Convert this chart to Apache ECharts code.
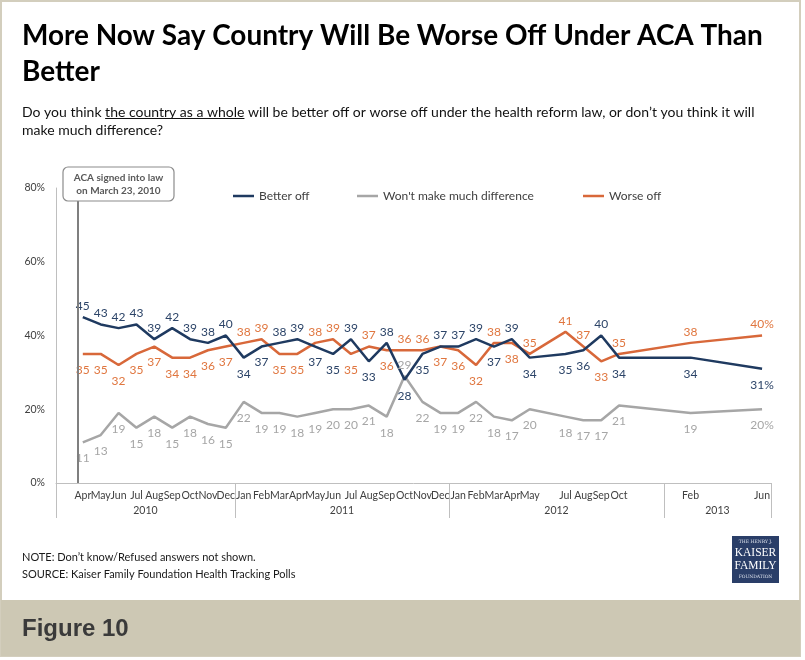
<!DOCTYPE html>
<html><head><meta charset="utf-8">
<script src="https://cdn.jsdelivr.net/npm/echarts@6/dist/echarts.min.js"></script>
<style>html,body{margin:0;padding:0;background:#fff}#c{width:805px;height:660px}</style>
</head><body><div id="c"></div>
<script>
// ---- data (one category per month, Mar 2010 .. Jun 2013) ----
const monthLabels = ['', 'Apr','May','Jun','Jul','Aug','Sep','Oct','Nov','Dec',
  'Jan','Feb','Mar','Apr','May','Jun','Jul','Aug','Sep','Oct','Nov','Dec',
  'Jan','Feb','Mar','Apr','May','','Jul','Aug','Sep','Oct','','',
  '','Feb','','','','Jun'];
const years = ['2010','2011','2012','2013'];
const betterOff = [null, 45,43,42,43,39,42,39,38,40,
  34,37,38,39,37,35,39,33,38,28,35,37,
  37,39,37,39,34,null,35,36,40,34,null,null,
  null,34,null,null,null,31];
const wontMatter = [null, 11,13,19,15,18,15,18,16,15,
  22,19,19,18,19,20,20,21,18,29,22,19,
  19,22,18,17,20,null,18,17,17,21,null,null,
  null,19,null,null,null,20];
const worseOff = [null, 35,35,32,35,37,34,34,36,37,
  38,39,35,35,38,39,35,37,36,36,36,37,
  36,32,38,38,35,null,41,37,33,35,null,null,
  null,38,null,null,null,40];
const seriesNames = ['Better off', "Won't make much difference", 'Worse off'];
const firstMonthOfYear = 2; // category 0 is March (0-based month 2)
const acaDay = 23;          // ACA signed March 23, 2010 (in category 0)

const titleText = 'More Now Say Country Will Be Worse Off Under ACA Than';
const titleText2 = 'Better';
const subA = 'Do you think ', subU = 'the country as a whole',
      subB = ' will be better off or worse off under the health reform law, or don\u2019t you think it will';
const sub2 = 'make much difference?';

// ---- derived ----
const FF = 'Lato, "Open Sans", sans-serif';
function tw(str, font){ const c=document.createElement('canvas').getContext('2d'); c.font=font; return c.measureText(str).width; }
const titleSize = Math.min(30, 27 * 741 / tw(titleText, 'bold 27px Lato'));
const subSize = Math.min(14, 13 * 736 / tw(subA+subU+subB, '13px Lato'));
const uX1 = 22 + tw(subA, subSize+'px Lato');
const uX2 = uX1 + tw(subU, subSize+'px Lato');

const N = monthLabels.length;
const yearTicks = [0];
for (let i=1;i<N;i++) if ((i+firstMonthOfYear)%12===0) yearTicks.push(i);
yearTicks.push(N);
const yearCenters = years.map((y,k)=> (yearTicks[k]+yearTicks[k+1])/2);
const acaPos = 0.5 + (acaDay-1)/31;

function lastIdx(a){ for(let i=a.length-1;i>=0;i--) if(a[i]!=null) return i; return -1; }
function build(vals, posFn){
  return vals.map((v,i)=> v==null ? null : (function(){
    const p = posFn(i);
    return {value:v, label:{position:p, distance: p==='top'?5:10}};
  })());
}
const betterData = build(betterOff, i => betterOff[i] >= worseOff[i] ? 'top' : 'bottom');
const worseData = build(worseOff, i => worseOff[i] > betterOff[i] ? 'top' : 'bottom');
const wontData = build(wontMatter, i => wontMatter[i] > Math.min(betterOff[i], worseOff[i]) ? 'top' : 'bottom');

const colors = ['#1f3a60', '#a6a6a6', '#d8683a'];
const labelColors = ['#2c4468', '#a6a6a6', '#e0763f'];
function mkSeries(k, data, src){
  const li = lastIdx(src);
  return {
    name: seriesNames[k], type:'line', data, connectNulls:true,
    symbol:'circle', symbolSize:0, showSymbol:true,
    lineStyle:{color:colors[k], width:2.5}, itemStyle:{color:colors[k]},
    label:{show:true, color:labelColors[k], fontFamily:FF, fontSize:12,
      formatter: p => p.dataIndex===li ? p.value+'%' : String(p.value)},
    emphasis:{disabled:true}, z: 3
  };
}
const legendLefts = [228, 352, 578];
const legends = seriesNames.map((n,k)=>({data:[n], left:legendLefts[k], top:185, itemWidth:21, itemHeight:2.5,
  icon:'rect', selectedMode:false, textStyle:{fontFamily:FF, fontSize:12, color:'#404040'}}));

const chart = echarts.init(document.getElementById('c'), null, {renderer:'canvas'});
chart.setOption({
  animation:false,
  backgroundColor:'#ffffff',
  title:{text: titleText+'\n'+titleText2, left:17, top:13,
    textStyle:{fontFamily:FF, fontWeight:'bold', fontSize:titleSize, color:'#000', lineHeight:36}},
  legend:legends,
  grid:{left:56, right:34, top:188, bottom:177},
  xAxis:[
    {type:'category', data:monthLabels, boundaryGap:true,
      axisLine:{show:true, lineStyle:{color:'#bfbfbf', width:1}},
      axisTick:{show:false},
      axisLabel:{interval:0, hideOverlap:false, margin:7, fontFamily:FF, fontSize:10.5, color:'#404040'}},
    {type:'value', min:0, max:N, position:'bottom',
      axisLine:{show:false}, splitLine:{show:false},
      axisTick:{show:true, customValues:yearTicks, length:35, lineStyle:{color:'#bfbfbf', width:1}},
      axisLabel:{customValues:yearCenters, margin:22, fontFamily:FF, fontSize:10.5, color:'#404040',
        formatter: v => { const k = yearCenters.indexOf(v); return k>=0 ? years[k] : ''; }}}
  ],
  yAxis:{type:'value', min:0, max:80, interval:20,
    axisLine:{show:true, lineStyle:{color:'#bfbfbf', width:1}}, axisTick:{show:false}, splitLine:{show:false},
    axisLabel:{formatter:'{value}%', margin:11, fontFamily:FF, fontSize:10.5, color:'#404040'}},
  series:[
    mkSeries(1, wontData, wontMatter),
    mkSeries(2, worseData, worseOff),
    mkSeries(0, betterData, betterOff),
    {type:'line', name:'aca', xAxisIndex:1, data:[], silent:true,
      markLine:{symbol:'none', silent:true, label:{show:false},
        lineStyle:{color:'#7f7f7f', width:2, type:'solid'}, data:[{xAxis:acaPos}]}}
  ],
  graphic:[
    {type:'rect', z:-10, silent:true, shape:{x:1, y:1, width:799, height:655},
      style:{fill:'#ffffff', stroke:'#d3cebd', lineWidth:2}},
    {type:'rect', z:-9, silent:true, shape:{x:1, y:600, width:799, height:56},
      style:{fill:'#cdc8b4'}},
    {type:'text', z:10, x:22, y:629, style:{text:'Figure 10', font:'bold 24px "Liberation Sans", Arial, sans-serif', fill:'#3a3a3a', textVerticalAlign:'middle'}},
    {type:'text', z:10, x:22, y:112, style:{text:subA+subU+subB, font:subSize+'px '+FF, fill:'#111', textVerticalAlign:'middle'}},
    {type:'text', z:10, x:22, y:130, style:{text:sub2, font:subSize+'px '+FF, fill:'#111', textVerticalAlign:'middle'}},
    {type:'line', z:10, shape:{x1:uX1, y1:118.5, x2:uX2, y2:118.5}, style:{stroke:'#111', lineWidth:1}},
    {type:'rect', z:100, shape:{x:63, y:167, width:111, height:34, r:5}, style:{fill:'#fff', stroke:'#8c8c8c', lineWidth:1.2}},
    {type:'text', z:101, x:118.5, y:184, style:{text:'ACA signed into law\non March 23, 2010', font:'bold 10px '+FF, fill:'#595959', textAlign:'center', textVerticalAlign:'middle', lineHeight:13}},
    {type:'text', z:10, x:22, y:557, style:{text:'NOTE: Don\u2019t know/Refused answers not shown.', font:'11px '+FF, fill:'#1a1a1a', textVerticalAlign:'middle'}},
    {type:'text', z:10, x:22, y:574, style:{text:'SOURCE: Kaiser Family Foundation Health Tracking Polls', font:'11px '+FF, fill:'#1a1a1a', textVerticalAlign:'middle'}},
    {type:'rect', z:10, shape:{x:732, y:536, width:47, height:47}, style:{fill:'#2a3e68'}},
    {type:'text', z:11, x:755.5, y:542, style:{text:'THE HENRY J.', font:'4.5px "DejaVu Serif", serif', fill:'#dfe4ee', textAlign:'center', textVerticalAlign:'middle'}},
    {type:'text', z:11, x:755.5, y:553, style:{text:'KAISER', font:'11.5px "Liberation Serif", serif', fill:'#ffffff', textAlign:'center', textVerticalAlign:'middle'}},
    {type:'text', z:11, x:755.5, y:566, style:{text:'FAMILY', font:'11.5px "Liberation Serif", serif', fill:'#ffffff', textAlign:'center', textVerticalAlign:'middle'}},
    {type:'text', z:11, x:755.5, y:577, style:{text:'FOUNDATION', font:'4.5px "DejaVu Serif", serif', fill:'#dfe4ee', textAlign:'center', textVerticalAlign:'middle'}}
  ]
});
</script></body></html>
